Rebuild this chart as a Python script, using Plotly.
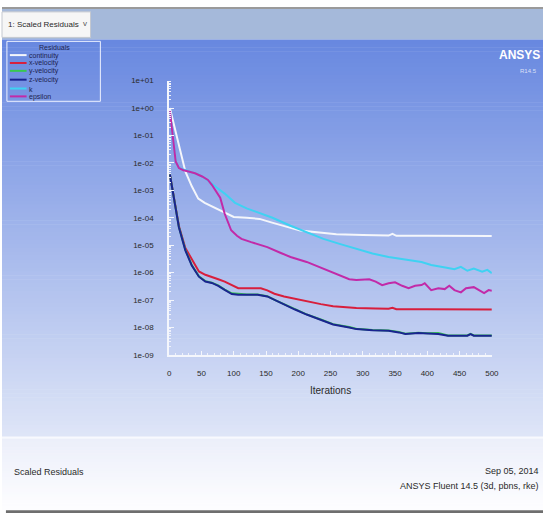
import plotly.graph_objects as go

W, H = 550, 524

# ---- residual histories (Fluent scaled residuals) ----
series_names = ["continuity", "x-velocity", "y-velocity", "z-velocity", "k", "epsilon"]
series_colors = ["#f4f6fb", "#d81e3c", "#38c850", "#1a2490", "#3fd2f2", "#c22aa8"]

it_continuity = [1, 8, 15, 25, 35, 45, 55, 70, 86, 100, 120, 140, 158, 178, 203, 229, 259,
                 300, 340, 346, 352, 400, 450, 500]
res_continuity = [1.0, 2.0e-1, 4.6e-2, 4.9e-3, 1.4e-3, 5.0e-4, 3.5e-4, 2.4e-4, 1.5e-4, 1.07e-4,
                  1.0e-4, 9.1e-5, 6.8e-5, 5.1e-5, 3.4e-5, 2.95e-5, 2.5e-5, 2.35e-5, 2.24e-5,
                  2.57e-5, 2.2e-5, 2.19e-5, 2.17e-5, 2.14e-5]

it_xvel = [1, 8, 15, 25, 36, 46, 56, 66, 76, 86, 96, 107, 125, 142, 152, 163, 178, 195, 213,
           235, 254, 272, 290, 320, 340, 346, 352, 400, 450, 500]
res_xvel = [3.8e-3, 4.1e-4, 5.0e-5, 7.9e-6, 2.8e-6, 1.1e-6, 8.3e-7, 7.1e-7, 5.75e-7, 4.7e-7,
            3.5e-7, 2.7e-7, 2.7e-7, 2.7e-7, 2.24e-7, 1.7e-7, 1.35e-7, 1.1e-7, 8.9e-8, 7.1e-8,
            5.9e-8, 5.4e-8, 5.1e-8, 4.9e-8, 4.8e-8, 5.25e-8, 4.6e-8, 4.6e-8, 4.5e-8, 4.5e-8]

it_yzvel = [1, 8, 15, 25, 35, 46, 56, 66, 76, 86, 97, 107, 120, 137, 152, 165, 178, 195, 213,
            235, 254, 279, 290, 315, 340, 356, 366, 386, 400, 417, 432, 462, 467, 472, 500]
res_yvel = [3.8e-3, 4.1e-4, 4.6e-5, 6.8e-6, 1.9e-6, 7.4e-7, 4.9e-7, 4.3e-7, 3.4e-7, 2.4e-7,
            1.75e-7, 1.7e-7, 1.6e-7, 1.58e-7, 1.38e-7, 9.7e-8, 7.0e-8, 4.6e-8, 3.0e-8, 1.95e-8,
            1.32e-8, 1.03e-8, 8.9e-9, 8.1e-9, 7.8e-9, 6.8e-9, 5.9e-9, 6.4e-9, 6.1e-9, 6.3e-9,
            5.1e-9, 5.1e-9, 5.8e-9, 5.1e-9, 5.1e-9]
res_zvel = [3.8e-3, 4.1e-4, 4.5e-5, 6.5e-6, 1.8e-6, 7.1e-7, 4.7e-7, 4.2e-7, 3.3e-7, 2.35e-7,
            1.66e-7, 1.55e-7, 1.55e-7, 1.55e-7, 1.35e-7, 9.5e-8, 6.8e-8, 4.5e-8, 2.95e-8, 1.9e-8,
            1.29e-8, 1.0e-8, 8.7e-9, 7.9e-9, 7.6e-9, 6.6e-9, 5.75e-9, 6.3e-9, 6.0e-9, 5.75e-9,
            5.0e-9, 5.0e-9, 5.75e-9, 5.0e-9, 5.0e-9]

it_k = [1, 5, 10, 15, 25, 35, 45, 55, 65, 75, 86, 102, 120, 137, 160, 188, 213, 239, 264, 290,
        315, 340, 365, 391, 406, 418, 430, 442, 452, 462, 472, 485, 493, 500]
res_k = [0.79, 0.1, 1.12e-2, 6.6e-3, 5.5e-3, 4.7e-3, 3.8e-3, 2.8e-3, 1.9e-3, 1.2e-3,
         7.6e-4, 3.5e-4, 2.2e-4, 1.6e-4, 1.0e-4, 5.1e-5, 3.0e-5, 1.7e-5, 1.12e-5, 7.4e-6,
         5.0e-6, 3.7e-6, 3.0e-6, 2.45e-6, 1.9e-6, 1.74e-6, 1.51e-6, 1.32e-6, 1.62e-6, 1.17e-6,
         1.41e-6, 1.07e-6, 1.26e-6, 9.5e-7]

it_eps = [1, 5, 10, 15, 22, 30, 40, 51, 60, 66, 72, 79, 86, 96, 105, 112, 127, 152, 173, 188,
          213, 239, 264, 279, 290, 310, 320, 330, 340, 350, 361, 371, 381, 391, 396, 406, 417,
          427, 434, 442, 452, 460, 472, 480, 488, 495, 500]
res_eps = [0.79, 0.1, 1.12e-2, 6.5e-3, 5.4e-3, 4.9e-3, 4.2e-3, 3.2e-3, 2.4e-3, 1.6e-3,
           1.0e-3, 5.4e-4, 1.4e-4, 3.5e-5, 2.2e-5, 1.7e-5, 1.29e-5, 8.5e-6, 5.2e-6, 3.7e-6,
           2.45e-6, 1.41e-6, 8.1e-7, 5.75e-7, 5.4e-7, 5.75e-7, 4.7e-7, 3.5e-7, 4.1e-7, 4.4e-7,
           3.3e-7, 2.7e-7, 3.3e-7, 3.5e-7, 4.1e-7, 2.3e-7, 2.7e-7, 2.5e-7, 3.3e-7, 2.3e-7,
           1.9e-7, 2.7e-7, 2.95e-7, 2.3e-7, 1.8e-7, 2.3e-7, 2.2e-7]

series_x = [it_continuity, it_xvel, it_yzvel, it_yzvel, it_k, it_eps]
series_y = [res_continuity, res_xvel, res_yvel, res_zvel, res_k, res_eps]

# ---- axis ticks ----
x_ticks = [0, 50, 100, 150, 200, 250, 300, 350, 400, 450, 500]
y_tick_exp = [1, 0, -1, -2, -3, -4, -5, -6, -7, -8, -9]
y_tick_text = ["1e+01", "1e+00", "1e-01", "1e-02", "1e-03", "1e-04", "1e-05",
               "1e-06", "1e-07", "1e-08", "1e-09"]

NARROW = "Liberation Sans Narrow, Liberation Sans, Arial, sans-serif"
TXT = "#2a2a2a"


def px(x):
    return x / W


def py(y):
    return 1 - y / H


def mix(c0, c1, t):
    return "rgb(%d,%d,%d)" % tuple(round(a + (b - a) * t) for a, b in zip(c0, c1))


fig = go.Figure()
for name, color, xs, ys in zip(series_names, series_colors, series_x, series_y):
    fig.add_trace(go.Scatter(x=xs, y=ys, mode="lines", name=name,
                             line=dict(color=color, width=2), showlegend=False))

shapes = []
# window chrome at the top
shapes.append(dict(type="rect", xref="paper", yref="paper", x0=0, x1=1, y0=py(5), y1=py(3),
                   fillcolor="#9a9a9a", line_width=0, layer="below"))
shapes.append(dict(type="rect", xref="paper", yref="paper", x0=0, x1=1, y0=py(36), y1=py(5),
                   fillcolor="#a5b9da", line_width=0, layer="below"))
shapes.append(dict(type="rect", xref="paper", yref="paper", x0=0, x1=px(90), y0=py(34), y1=py(8),
                   fillcolor="#f6f6f6", line=dict(color="#c4c8d0", width=1), layer="below"))

# graphics window: vertical blue gradient
top_c, bot_c = (104, 136, 224), (222, 229, 247)
g_top, g_bot, n = 36, 440, 101
step = (g_bot - g_top) / n
for i in range(n):
    y0 = g_top + i * step
    shapes.append(dict(type="rect", xref="paper", yref="paper", x0=0, x1=1,
                       y0=py(y0 + step + 0.6), y1=py(y0),
                       fillcolor=mix(top_c, bot_c, i / (n - 1)), line_width=0, layer="below"))
shapes.append(dict(type="rect", xref="paper", yref="paper", x0=0, x1=1, y0=py(442), y1=py(440),
                   fillcolor="#f8f9fe", line_width=0, layer="below"))
# caption band
c0, c1 = (236, 239, 250), (253, 253, 255)
b_top, b_bot, m = 442, 514, 24
bstep = (b_bot - b_top) / m
for i in range(m):
    y0 = b_top + i * bstep
    shapes.append(dict(type="rect", xref="paper", yref="paper", x0=0, x1=1,
                       y0=py(y0 + bstep + 0.6), y1=py(y0),
                       fillcolor=mix(c0, c1, i / (m - 1)), line_width=0, layer="below"))
shapes.append(dict(type="rect", xref="paper", yref="paper", x0=px(4), x1=1, y0=py(518), y1=py(515),
                   fillcolor="#6e6e6e", line_width=0, layer="below"))

# residuals legend box
shapes.append(dict(type="rect", xref="paper", yref="paper", x0=px(5), x1=px(100),
                   y0=py(99), y1=py(38), line=dict(color="#eef2ff", width=1),
                   fillcolor="rgba(0,0,0,0)"))
legend_y = [52, 60, 68, 77, 86, 94]
annotations = [dict(text="Residuals", x=px(53), y=py(44), xref="paper", yref="paper",
                    showarrow=False, font=dict(family=NARROW, size=7, color="#1d2350"),
                    xanchor="center", yanchor="middle")]
for name, color, ly in zip(series_names, series_colors, legend_y):
    shapes.append(dict(type="line", xref="paper", yref="paper", x0=px(8), x1=px(25),
                       y0=py(ly), y1=py(ly), line=dict(color=color, width=2)))
    annotations.append(dict(text=name, x=px(25), y=py(ly + 0.5), xref="paper", yref="paper",
                            showarrow=False, xanchor="left", yanchor="middle",
                            font=dict(family=NARROW, size=7, color="#1d2350")))

annotations += [
    dict(text="1: Scaled Residuals", x=px(4), y=py(21), xref="paper", yref="paper",
         showarrow=False, xanchor="left", yanchor="middle",
         font=dict(family=NARROW, size=8, color=TXT)),
    dict(text="v", x=px(84), y=py(20), xref="paper", yref="paper", showarrow=False,
         xanchor="center", yanchor="middle", font=dict(family=NARROW, size=8, color="#555")),
    dict(text="<b>ANSYS</b>", x=px(549), y=py(52), xref="paper", yref="paper", showarrow=False,
         xanchor="right", yanchor="middle",
         font=dict(family=NARROW, size=12, color="#ffffff")),
    dict(text="R14.5", x=px(546), y=py(68), xref="paper", yref="paper", showarrow=False,
         xanchor="right", yanchor="middle",
         font=dict(family=NARROW, size=6, color="rgba(255,255,255,0.75)")),
    dict(text="Iterations", x=px(334), y=py(393), xref="paper", yref="paper", showarrow=False,
         xanchor="center", yanchor="middle", font=dict(family=NARROW, size=10, color=TXT)),
    dict(text="Scaled Residuals", x=px(10), y=py(476), xref="paper", yref="paper",
         showarrow=False, xanchor="left", yanchor="middle",
         font=dict(family=NARROW, size=9, color=TXT)),
    dict(text="Sep 05, 2014", x=px(548), y=py(475), xref="paper", yref="paper",
         showarrow=False, xanchor="right", yanchor="middle",
         font=dict(family=NARROW, size=9, color=TXT)),
    dict(text="ANSYS Fluent 14.5 (3d, pbns, rke)", x=px(548), y=py(490), xref="paper",
         yref="paper", showarrow=False, xanchor="right", yanchor="middle",
         font=dict(family=NARROW, size=9, color=TXT)),
]

fig.update_layout(
    width=W, height=H, margin=dict(l=0, r=0, t=0, b=0),
    paper_bgcolor="#ffffff", plot_bgcolor="rgba(0,0,0,0)",
    showlegend=False, shapes=shapes, annotations=annotations,
    xaxis=dict(domain=[px(170), px(498)], range=[0, 500], tickvals=x_ticks,
               showgrid=False, zeroline=False, showline=True, linecolor="#f4f6fc", linewidth=2,
               ticks="inside", ticklen=4, tickcolor="#f4f6fc", tickwidth=1,
               ticklabelstandoff=10,
               tickfont=dict(family=NARROW, size=8, color=TXT),
               minor=dict(dtick=10, ticks="inside", ticklen=2, tickcolor="#eef1fb", showgrid=False)),
    yaxis=dict(type="log", domain=[py(357), py(78)], range=[-9, 1],
               tickvals=[10.0 ** e for e in y_tick_exp], ticktext=y_tick_text,
               showgrid=False, zeroline=False, showline=True, linecolor="#f4f6fc", linewidth=2,
               ticks="inside", ticklen=5, tickcolor="#f4f6fc", tickwidth=1,
               ticklabelstandoff=12,
               tickfont=dict(family=NARROW, size=8, color=TXT),
               minor=dict(dtick="D1", ticks="inside", ticklen=2, tickcolor="#eef1fb",
                          showgrid=False)),
)

fig.write_html("out.html")
